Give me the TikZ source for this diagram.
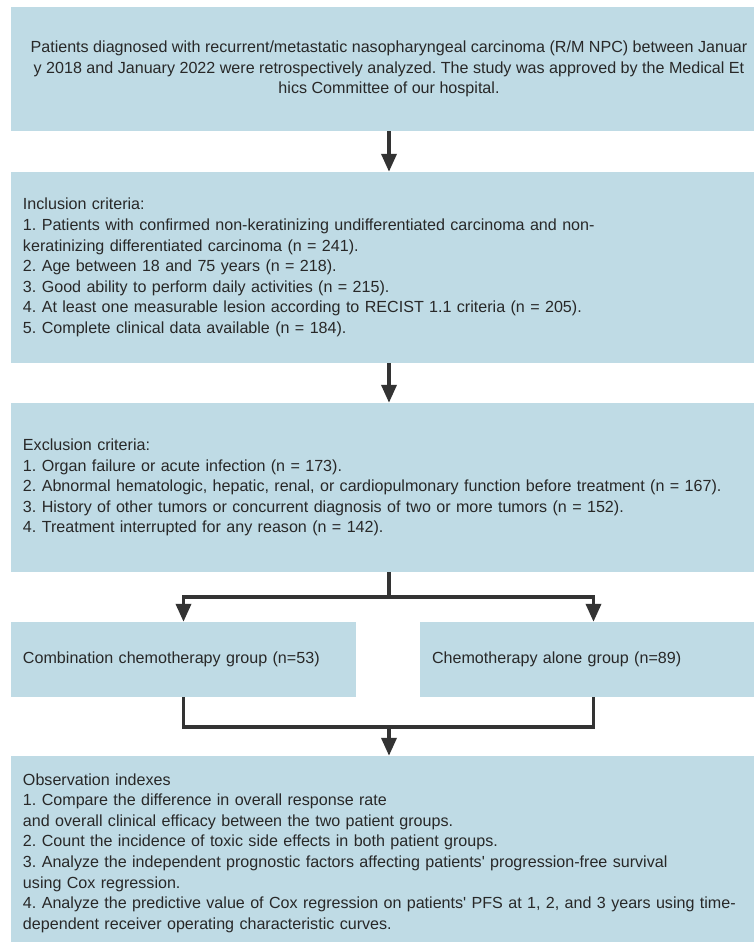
\documentclass[tikz,border=0pt]{standalone}
\usepackage{fontspec}
\setmainfont{Liberation Sans}
\usetikzlibrary{arrows.meta}
\definecolor{boxc}{RGB}{191,219,229}
\definecolor{linec}{RGB}{51,51,51}
\definecolor{txtc}{RGB}{40,40,40}
\frenchspacing
\tikzset{
  fbox/.style={fill=boxc, draw=none, inner xsep=12pt, inner ysep=0pt,
    text=txtc, font=\fontsize{16.1}{20.6}\selectfont\frenchspacing},
  lbox/.style={fbox, align=left},
  conn/.style={draw=linec, line width=3.6pt},
  arr/.style={conn, -{Triangle[length=18pt,width=15pt]}}
}
\begin{document}
\begin{tikzpicture}[x=1pt,y=-1pt]
\useasboundingbox (0,0) rectangle (753,942);
\fill[white] (0,0) rectangle (753,942);
\node[fbox, align=center, minimum width=756pt, minimum height=124pt] (b1) at (389,69)
  {Patients diagnosed with recurrent/metastatic nasopharyngeal carcinoma (R/M NPC) between Januar\\
   y 2018 and January 2022 were retrospectively analyzed. The study was approved by the Medical Et\\
   hics Committee of our hospital.};
\node[lbox, text width=732pt, minimum height=191pt] (b2) at (389,267.5)
  {Inclusion criteria:\\
   1. Patients with confirmed non-keratinizing undifferentiated carcinoma and non-\\
   keratinizing differentiated carcinoma (n = 241).\\
   2. Age between 18 and 75 years (n = 218).\\
   3. Good ability to perform daily activities (n = 215).\\
   4. At least one measurable lesion according to RECIST 1.1 criteria (n = 205).\\
   5. Complete clinical data available (n = 184).};
\node[lbox, text width=732pt, minimum height=169pt] (b3) at (389,487.5)
  {Exclusion criteria:\\
   1. Organ failure or acute infection (n = 173).\\
   2. Abnormal hematologic, hepatic, renal, or cardiopulmonary function before treatment (n = 167).\\
   3. History of other tumors or concurrent diagnosis of two or more tumors (n = 152).\\
   4. Treatment interrupted for any reason (n = 142).};
\node[lbox, text width=321pt, minimum height=75pt] (b4) at (183.5,659.5)
  {Combination chemotherapy group (n=53)};
\node[lbox, text width=323pt, minimum height=75pt] (b5) at (593.5,659.5)
  {Chemotherapy alone group (n=89)};
\node[lbox, text width=732pt, minimum height=194pt] (b6) at (389,853)
  {Observation indexes\\
   1. Compare the difference in overall response rate\\
   and overall clinical efficacy between the two patient groups.\\
   2. Count the incidence of toxic side effects in both patient groups.\\
   3. Analyze the independent prognostic factors affecting patients\textquotesingle{} progression-free survival\\
   using Cox regression.\\
   4. Analyze the predictive value of Cox regression on patients\textquotesingle{} PFS at 1, 2, and 3 years using time-\\
   dependent receiver operating characteristic curves.};
\coordinate (j1) at (389,597);
\coordinate (j2) at (389,727);
\draw[arr] (b1.south) -- (b2.north);
\draw[arr] (b2.south) -- (b3.north);
\draw[conn] (b3.south) -- (j1);
\draw[arr] (j1) -| (b4.north);
\draw[arr] (j1) -| (b5.north);
\draw[conn] (b4.south) |- (j2);
\draw[conn] (b5.south) |- (j2);
\draw[arr] (j2) -- (b6.north);
\end{tikzpicture}
\end{document}
